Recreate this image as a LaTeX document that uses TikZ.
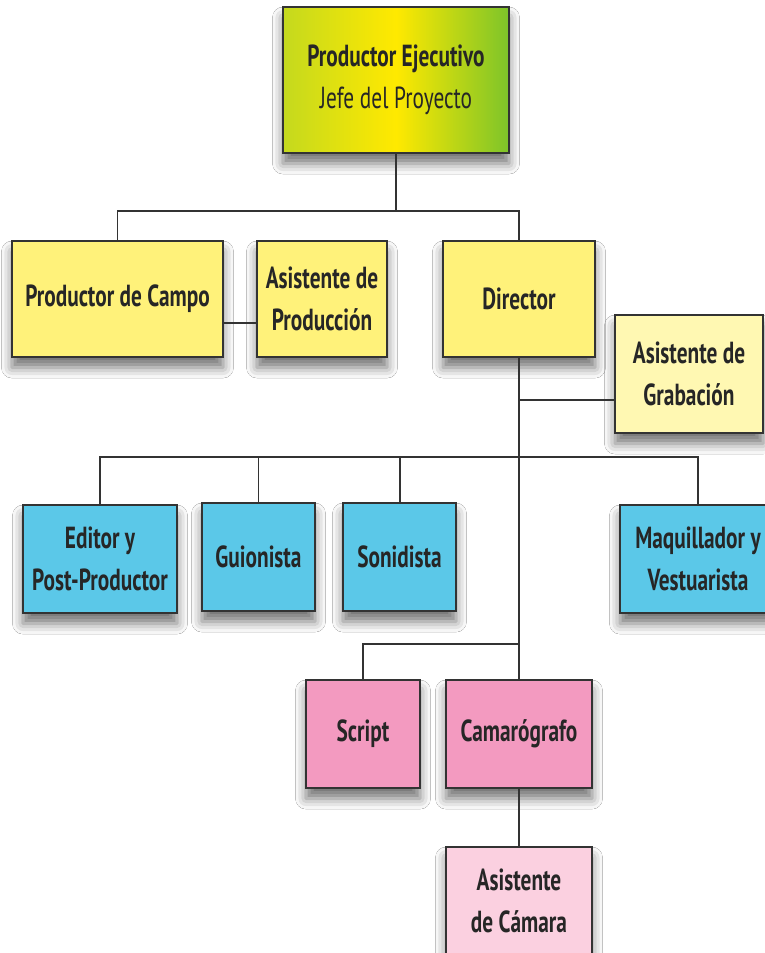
\documentclass[tikz,border=0pt]{standalone}
\usepackage{fontspec}
\setmainfont{PT Sans}[FakeStretch=0.7]
\usetikzlibrary{calc,shadows.blur}

\definecolor{amarillo}{HTML}{FFF27A}
\definecolor{amarilloclaro}{HTML}{FFF8B2}
\definecolor{celeste}{HTML}{5BC8E8}
\definecolor{rosa}{HTML}{F39AC0}
\definecolor{rosaclaro}{HTML}{FBD0E0}
\definecolor{verdelima}{HTML}{C4D91E}
\definecolor{verdehoja}{HTML}{7DC42A}
\definecolor{amarillosol}{HTML}{FFE900}
\definecolor{linea}{HTML}{333333}

\tikzset{
  caja/.style={draw=linea,line width=2pt,align=center,inner sep=0pt,
    text=black!85,font=\fontsize{26}{36}\selectfont\bfseries,
    blur shadow={shadow xshift=0pt,shadow yshift=-9pt,shadow blur radius=9pt,shadow opacity=55}},
  conector/.style={draw=linea,line width=1.7pt}
}

\begin{document}
\begin{tikzpicture}[x=0.03cm,y=-0.03cm]
  \path[use as bounding box,fill=white] (0,0) rectangle (765,953);
  \clip (0,0) rectangle (765,953);

  % cajas
  \node[caja,minimum width=6.78cm,minimum height=4.38cm,left color=verdelima,right color=verdehoja,middle color=amarillosol] (ejec) at (396,80) {Productor Ejecutivo\\{\mdseries Jefe del Proyecto}};
  \node[caja,fill=amarillo,minimum width=6.33cm,minimum height=3.48cm] (campo) at (117.5,299) {Productor de Campo};
  \node[caja,fill=amarillo,minimum width=3.9cm,minimum height=3.48cm] (asprod) at (322,299) {Asistente de\\Producción};
  \node[caja,fill=amarillo,minimum width=4.56cm,minimum height=3.48cm] (dir) at (519,299) {Director};
  \node[caja,fill=amarilloclaro,minimum width=4.44cm,minimum height=3.54cm] (asgrab) at (689,374) {Asistente de\\Grabación};

  \node[caja,fill=celeste,minimum width=4.62cm,minimum height=3.24cm] (edit) at (100,559) {Editor y\\Post-Productor};
  \node[caja,fill=celeste,minimum width=3.39cm,minimum height=3.24cm] (guion) at (258.5,557) {Guionista};
  \node[caja,fill=celeste,minimum width=3.39cm,minimum height=3.24cm] (sonido) at (399.5,557) {Sonidista};
  \node[caja,fill=celeste,minimum width=4.68cm,minimum height=3.24cm] (maqui) at (698,559) {Maquillador y\\Vestuarista};

  \node[caja,fill=rosa,minimum width=3.42cm,minimum height=3.24cm] (script) at (363,734) {Script};
  \node[caja,fill=rosa,minimum width=4.38cm,minimum height=3.24cm] (cam) at (519,734) {Camarógrafo};
  \node[caja,fill=rosaclaro,minimum width=4.38cm,minimum height=3.24cm] (ascam) at (519,901) {Asistente\\de Cámara};

  % uniones
  \coordinate (j1) at (396,211);
  \coordinate (jg) at (519,400);
  \coordinate (jb) at (519,457);
  \coordinate (jc) at (519,644);

  \draw[conector] (ejec.south) -- (j1);
  \draw[conector] (campo.north) |- (j1) -| (dir.north);
  \draw[conector] ($(campo.east)+(0,24)$) -- ($(asprod.west)+(0,24)$);
  \draw[conector] (dir.south) -- (cam.north);
  \draw[conector] (jg) -- (jg -| asgrab.west);
  \draw[conector] (edit.north) -- (edit.north |- jb) -- (maqui.north |- jb) -- (maqui.north);
  \draw[conector] (guion.north) -- (guion.north |- jb);
  \draw[conector] (sonido.north) -- (sonido.north |- jb);
  \draw[conector] (script.north) |- (jc);
  \draw[conector] (cam.south) -- (ascam.north);
\end{tikzpicture}
\end{document}
